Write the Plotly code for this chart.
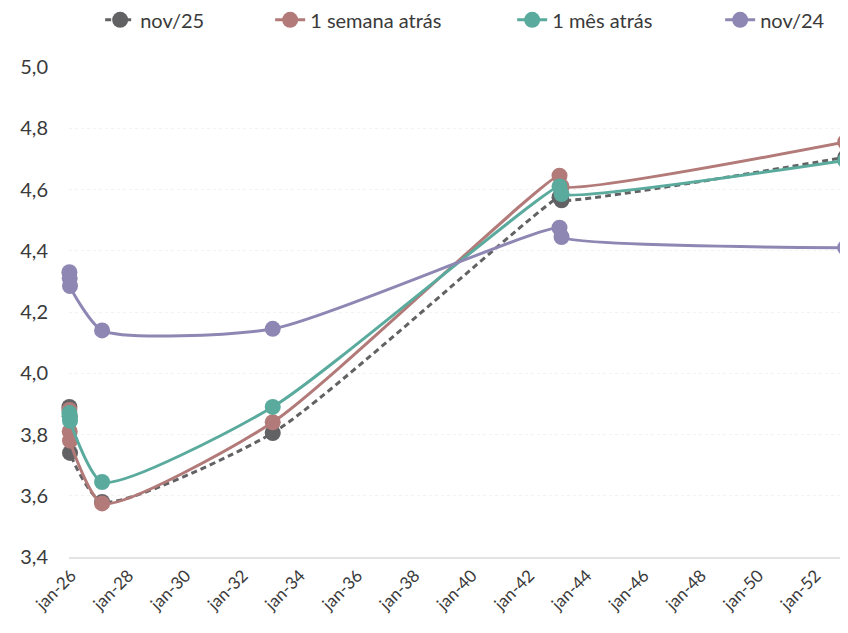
import plotly.graph_objects as go

dates = ["2025-12-10", "2025-12-14", "2025-12-18", "2027-01-31", "2033-01-15",
         "2043-01-20", "2043-02-15", "2053-01-10"]

nov25 = [3.89, 3.86, 3.74, 3.58, 3.805, 4.575, 4.565, 4.705]
semana = [3.88, 3.81, 3.78, 3.575, 3.84, 4.645, 4.61, 4.755]
mes = [3.87, 3.86, 3.845, 3.645, 3.89, 4.61, 4.585, 4.695]
nov24 = [4.33, 4.31, 4.285, 4.14, 4.145, 4.475, 4.445, 4.41]

names = ["nov/25", "1 semana atrás", "1 mês atrás", "nov/24"]
colors = ["#626265", "#b27a78", "#5aab9d", "#8f87b3"]
dashes = ["6px,4px", "solid", "solid", "solid"]
legend_widths = [125, 197, 163, None]
series = [nov25, semana, mes, nov24]

tick_vals = [f"{y}-01-01" for y in range(2026, 2053, 2)]
tick_text = [f"jan-{str(y)[2:]}" for y in range(2026, 2053, 2)]
y_ticks = [3.4, 3.6, 3.8, 4.0, 4.2, 4.4, 4.6, 4.8, 5.0]
y_text = [f"{v:.1f}".replace(".", ",") for v in y_ticks]

fig = go.Figure()
for name, vals, col, dash, lw in zip(names, series, colors, dashes, legend_widths):
    fig.add_trace(go.Scatter(
        x=dates, y=vals, name=name, mode="lines+markers",
        line=dict(color=col, width=3, dash=dash, shape="spline", smoothing=0.6),
        marker=dict(color=col, size=16),
        cliponaxis=False,
        legendwidth=lw,
    ))

font = "Lato, 'Open Sans', sans-serif"
fig.update_layout(
    width=840, height=625,
    margin=dict(l=61, r=0, t=59, b=76, autoexpand=False),
    paper_bgcolor="white", plot_bgcolor="white",
    font=dict(family=font, size=18, color="#3a3a3a"),
    showlegend=True,
    legend=dict(orientation="h", x=0.04, xanchor="left", y=1.136, yanchor="top",
                font=dict(size=20, color="#3a3a3a"),
                traceorder="normal"),
    xaxis=dict(type="date", range=["2025-12-05", "2053-02-15"],
               tickvals=tick_vals, ticktext=tick_text, tickangle=-45,
               tickfont=dict(size=17, color="#3a3a3a"),
               showgrid=False, zeroline=False, automargin=False,
               showline=True, linecolor="#e3e3e3", linewidth=2, ticks=""),
    yaxis=dict(range=[3.4, 5.0], tickvals=y_ticks, ticktext=y_text,
               tickfont=dict(size=20, color="#3a3a3a"), automargin=False,
               showgrid=True, gridcolor="#f2f2f2", gridwidth=1, griddash="dot",
               zeroline=False, showline=False, ticks="", ticklabelstandoff=20),
)

fig.write_html("out.html")
